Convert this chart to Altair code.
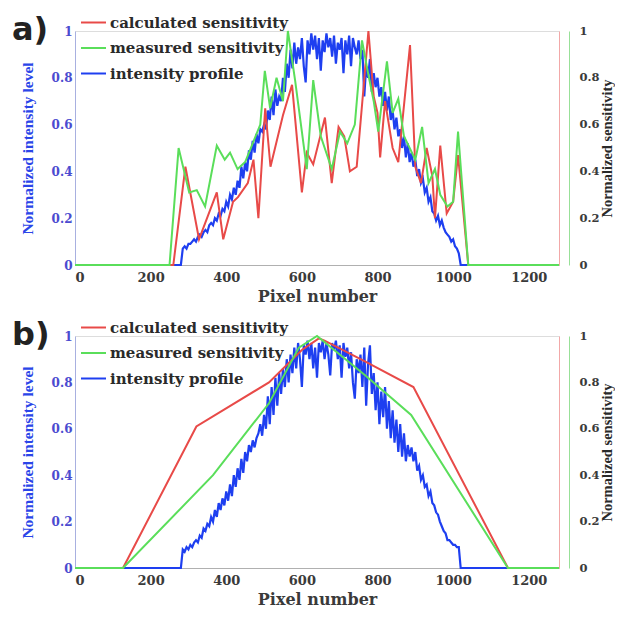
import altair as alt
import pandas as pd

SERIES = ["calculated sensitivity", "measured sensitivity", "intensity profile"]
COLORS = ["#e84a48", "#5ade5a", "#1e3ff0"]
Y_TICKS = [0, 0.2, 0.4, 0.6, 0.8, 1]
X_TICKS = [0, 200, 400, 600, 800, 1000, 1200]

# ---------- panel a ----------
a_calc_x = [0, 260, 292, 328, 375, 392, 418, 431, 457, 472, 485, 503, 517, 550, 574, 600, 613, 630, 661, 679, 697, 712, 727, 745, 776, 790, 800, 807, 820, 840, 855, 886, 900, 915, 930, 945, 952, 966, 983, 1000, 1013, 1040, 1280]
a_calc_y = [0, 0, 0.42, 0.11, 0.31, 0.11, 0.27, 0.29, 0.35, 0.45, 0.20, 0.67, 0.42, 0.64, 0.77, 0.31, 0.48, 0.43, 0.63, 0.35, 0.59, 0.55, 0.40, 0.42, 1.0, 0.72, 0.65, 0.46, 0.70, 0.50, 0.44, 0.94, 0.42, 0.35, 0.50, 0.38, 0.20, 0.51, 0.22, 0.27, 0.47, 0, 0]

a_meas_x = [0, 250, 274, 302, 322, 344, 375, 396, 410, 430, 450, 470, 490, 502, 516, 533, 550, 563, 582, 600, 613, 630, 650, 679, 701, 720, 740, 759, 775, 790, 802, 825, 840, 855, 870, 900, 918, 935, 952, 966, 985, 1000, 1013, 1040, 1280]
a_meas_y = [0, 0, 0.50, 0.31, 0.32, 0.25, 0.51, 0.45, 0.48, 0.41, 0.44, 0.52, 0.60, 0.83, 0.67, 0.80, 0.70, 1.0, 0.79, 0.57, 0.41, 0.79, 0.55, 0.41, 0.57, 0.52, 0.60, 0.96, 0.82, 0.70, 0.57, 0.87, 0.65, 0.71, 0.55, 0.45, 0.59, 0.35, 0.41, 0.30, 0.25, 0.27, 0.57, 0, 0]

a_int_x = [0, 280, 285, 290, 295, 300, 305, 310, 315, 320, 325, 330, 335, 340, 345, 350, 355, 360, 365, 370, 375, 380, 385, 390, 395, 400, 405, 410, 415, 420, 425, 430, 435, 440, 445, 450, 455, 460, 465, 470, 475, 480, 485, 490, 495, 500, 505, 510, 515, 520, 525, 530, 535, 540, 545, 550, 555, 560, 565, 570, 575, 580, 585, 590, 595, 600, 605, 610, 615, 620, 625, 630, 635, 640, 645, 650, 655, 660, 665, 670, 675, 680, 685, 690, 695, 700, 705, 710, 715, 720, 725, 730, 735, 740, 745, 750, 755, 760, 765, 770, 775, 780, 785, 790, 795, 800, 805, 810, 815, 820, 825, 830, 835, 840, 845, 850, 855, 860, 865, 870, 875, 880, 885, 890, 895, 900, 905, 910, 915, 920, 925, 930, 935, 940, 945, 950, 955, 960, 965, 970, 975, 980, 985, 990, 995, 1000, 1005, 1010, 1015, 1020, 1280]
a_int_y = [0, 0, 0.07, 0.08, 0.07, 0.09, 0.09, 0.10, 0.11, 0.10, 0.12, 0.13, 0.12, 0.14, 0.15, 0.14, 0.17, 0.18, 0.17, 0.20, 0.19, 0.22, 0.21, 0.24, 0.23, 0.27, 0.25, 0.30, 0.28, 0.33, 0.30, 0.36, 0.33, 0.42, 0.37, 0.44, 0.40, 0.49, 0.45, 0.53, 0.48, 0.56, 0.52, 0.58, 0.57, 0.60, 0.58, 0.66, 0.62, 0.72, 0.64, 0.75, 0.68, 0.72, 0.70, 0.80, 0.74, 0.86, 0.80, 0.92, 0.84, 0.95, 0.86, 0.93, 0.88, 0.97, 0.85, 0.78, 0.96, 0.90, 0.99, 0.92, 0.98, 0.88, 0.97, 0.83, 0.96, 0.91, 0.99, 0.93, 0.97, 0.89, 0.98, 0.86, 0.95, 0.92, 0.97, 0.82, 0.96, 0.90, 0.98, 0.85, 0.97, 0.93, 0.90, 0.96, 0.88, 0.92, 0.72, 0.85, 0.80, 0.88, 0.74, 0.82, 0.76, 0.80, 0.72, 0.76, 0.68, 0.74, 0.66, 0.72, 0.62, 0.66, 0.58, 0.63, 0.55, 0.58, 0.50, 0.55, 0.46, 0.52, 0.44, 0.48, 0.42, 0.45, 0.38, 0.41, 0.35, 0.37, 0.31, 0.33, 0.27, 0.29, 0.23, 0.22, 0.19, 0.21, 0.17, 0.19, 0.16, 0.14, 0.13, 0.12, 0.10, 0.11, 0.08, 0.07, 0.05, 0, 0]

# ---------- panel b ----------
b_calc_x = [0, 127, 321, 513, 600, 645, 660, 768, 895, 1145, 1280]
b_calc_y = [0, 0, 0.61, 0.80, 0.94, 0.99, 0.98, 0.89, 0.78, 0, 0]

b_meas_x = [0, 127, 365, 513, 592, 640, 768, 889, 1145, 1280]
b_meas_y = [0, 0, 0.40, 0.71, 0.95, 1.0, 0.83, 0.66, 0, 0]

b_int_x = [0, 280, 285, 290, 295, 300, 305, 310, 315, 320, 325, 330, 335, 340, 345, 350, 355, 360, 365, 370, 375, 380, 385, 390, 395, 400, 405, 410, 415, 420, 425, 430, 435, 440, 445, 450, 455, 460, 465, 470, 475, 480, 485, 490, 495, 500, 505, 510, 515, 520, 525, 530, 535, 540, 545, 550, 555, 560, 565, 570, 575, 580, 585, 590, 595, 600, 605, 610, 615, 620, 625, 630, 635, 640, 645, 650, 655, 660, 665, 670, 675, 680, 685, 690, 695, 700, 705, 710, 715, 720, 725, 730, 735, 740, 745, 750, 755, 760, 765, 770, 775, 780, 785, 790, 795, 800, 805, 810, 815, 820, 825, 830, 835, 840, 845, 850, 855, 860, 865, 870, 875, 880, 885, 890, 895, 900, 905, 910, 915, 920, 925, 930, 935, 940, 945, 950, 955, 960, 965, 970, 975, 980, 985, 990, 995, 1000, 1005, 1010, 1015, 1020, 1280]
b_int_y = [0, 0, 0.08, 0.07, 0.09, 0.08, 0.10, 0.09, 0.11, 0.12, 0.11, 0.14, 0.13, 0.17, 0.16, 0.19, 0.18, 0.22, 0.20, 0.25, 0.22, 0.28, 0.25, 0.30, 0.27, 0.33, 0.29, 0.36, 0.31, 0.40, 0.35, 0.43, 0.38, 0.47, 0.41, 0.50, 0.46, 0.53, 0.50, 0.55, 0.52, 0.56, 0.58, 0.62, 0.57, 0.66, 0.60, 0.74, 0.62, 0.78, 0.66, 0.82, 0.70, 0.84, 0.75, 0.86, 0.78, 0.90, 0.80, 0.92, 0.84, 0.95, 0.86, 0.97, 0.90, 0.78, 0.96, 0.92, 0.98, 0.90, 0.97, 0.86, 0.95, 0.82, 0.97, 0.93, 0.98, 0.90, 0.97, 0.92, 0.83, 0.97, 0.94, 0.98, 0.90, 0.96, 0.82, 0.97, 0.91, 0.95, 0.86, 0.93, 0.80, 0.73, 0.90, 0.84, 0.92, 0.78, 0.95, 0.70, 0.88, 0.96, 0.75, 0.84, 0.68, 0.80, 0.62, 0.76, 0.65, 0.78, 0.60, 0.72, 0.56, 0.68, 0.54, 0.64, 0.50, 0.62, 0.48, 0.58, 0.46, 0.53, 0.48, 0.52, 0.46, 0.50, 0.42, 0.44, 0.38, 0.40, 0.35, 0.36, 0.31, 0.33, 0.28, 0.27, 0.24, 0.23, 0.20, 0.18, 0.16, 0.15, 0.12, 0.12, 0.11, 0.10, 0.10, 0.09, 0.09, 0, 0]

SERIF_WIDE = "DejaVu Serif"
SERIF = "Liberation Serif"


def panel(int_x, int_y, calc_x, calc_y, meas_x, meas_y, tag, h):
    d_int = pd.DataFrame({"x": int_x, "y": int_y, "s": SERIES[2], "o": range(len(int_x))})
    d_calc = pd.DataFrame({"x": calc_x, "y": calc_y, "s": SERIES[0], "o": range(len(calc_x))})
    d_meas = pd.DataFrame({"x": meas_x, "y": meas_y, "s": SERIES[1], "o": range(len(meas_x))})

    xenc = alt.X("x:Q", scale=alt.Scale(domain=[0, 1280], nice=False),
                 axis=alt.Axis(values=X_TICKS, format="d", title="Pixel number", grid=False,
                               ticks=False, domainColor="#b0b0b0", labelFont=SERIF_WIDE,
                               labelFontWeight="bold", labelFontSize=13, labelColor="#3a3a3a",
                               labelPadding=6, titleFont=SERIF_WIDE, titleFontWeight="bold",
                               titleFontSize=16, titleColor="#3a3a3a", titlePadding=4))
    color = alt.Color("s:N", scale=alt.Scale(domain=SERIES, range=COLORS),
                      legend=alt.Legend(title=None, orient="none", legendX=5, legendY=-22,
                                        symbolType="stroke", symbolSize=625, symbolStrokeWidth=2,
                                        labelFont=SERIF_WIDE, labelFontWeight="bold", labelFontSize=15,
                                        labelColor="#2a2a2a", labelOffset=3, rowPadding=3.5,
                                        padding=0, labelLimit=400))
    ysc = alt.Scale(domain=[0, 1], nice=False)

    left = alt.Chart(d_int).mark_line(strokeWidth=2.2).encode(
        x=xenc,
        y=alt.Y("y:Q", scale=ysc,
                axis=alt.Axis(orient="left", values=Y_TICKS, format="~g", grid=False, ticks=False,
                              domainColor="#a8b0e0", labelFont=SERIF_WIDE, labelFontWeight="bold",
                              labelFontSize=12, labelColor="#4b4bd0", labelPadding=3,
                              title="Normalized intensity level", titleFont=SERIF,
                              titleFontWeight="bold", titleFontSize=15.5, titleColor="#2a45e8",
                              titlePadding=16)),
        color=color, order="o:Q")
    red = alt.Chart(d_calc).mark_line(strokeWidth=2).encode(
        x=xenc,
        y=alt.Y("y:Q", scale=ysc,
                axis=alt.Axis(orient="right", values=Y_TICKS, grid=False, ticks=False, labels=False,
                              title=None, domainColor="#f2a8a8")),
        color=color, order="o:Q")
    green = alt.Chart(d_meas).mark_line(strokeWidth=2).encode(
        x=xenc,
        y=alt.Y("y:Q", scale=ysc,
                axis=alt.Axis(orient="right", offset=10, values=Y_TICKS, format="~g", grid=False,
                              ticks=False, domainColor="#98e098", labelFont=SERIF_WIDE,
                              labelFontWeight="bold", labelFontSize=11.5, labelColor="#3a3a3a",
                              labelPadding=10, title="Normalized sensitivity", titleFont=SERIF,
                              titleFontWeight="bold", titleFontSize=14.5, titleColor="#2a2a2a",
                              titleAngle=270, titleBaseline="top", titlePadding=1)),
        color=color, order="o:Q")
    return alt.layer(left, red, green).resolve_scale(y="independent").properties(
        width=484, height=h,
        title=alt.TitleParams(text=tag, anchor="start", frame="group", font="DejaVu Sans",
                              fontWeight="bold", fontSize=32, color="#222222", dx=-63, dy=42))


pa = panel(a_int_x, a_int_y, a_calc_x, a_calc_y, a_meas_x, a_meas_y, "a)", 234)
pb = panel(b_int_x, b_int_y, b_calc_x, b_calc_y, b_meas_x, b_meas_y, "b)", 232)

chart = alt.vconcat(pa, pb, spacing=8).resolve_scale(color="independent").properties(
    padding={"left": 3, "top": 0, "right": 0, "bottom": 0}
).configure_view(stroke=None).configure(background="white")

chart.save("out.html", embed_options={"renderer": "svg", "actions": False})
